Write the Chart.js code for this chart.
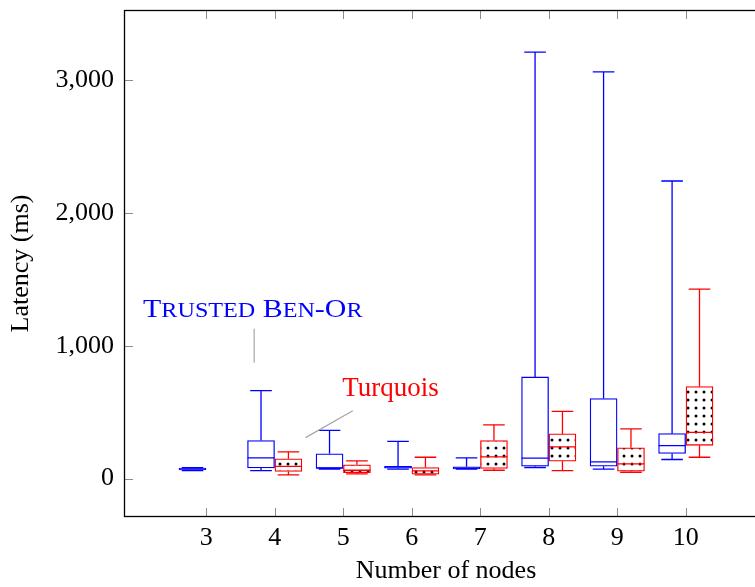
<!DOCTYPE html>
<html>
<head>
<meta charset="utf-8">
<title>Latency by number of nodes</title>
<script src="https://cdn.jsdelivr.net/npm/chart.js@4.4.1/dist/chart.umd.min.js"></script>
<style>
  html, body { margin: 0; padding: 0; background: #fff; overflow: hidden; }
  #wrap { width: 755px; height: 587px; overflow: hidden; position: relative; }
  #latencyChart { position: absolute; left: 0; top: 0; }
</style>
</head>
<body>
<div id="wrap"><canvas id="latencyChart"></canvas></div>
<script>
// number of nodes on the x axis
var nodes = [3, 4, 5, 6, 7, 8, 9, 10];
var xTicks = [3, 4, 5, 6, 7, 8, 9, 10];
var yTicks = [0, 1000, 2000, 3000];

// Trusted Ben-Or latency (ms): min, q1, median, q3, max
var benOrMin = [60, 60, 70, 70, 70, 83, 70, 143];
var benOrQ1 = [64, 80, 75, 77, 73, 93, 93, 188];
var benOrMed = [70, 155, 80, 85, 80, 153, 125, 248];
var benOrQ3 = [78, 286, 186, 92, 88, 765, 602, 338];
var benOrMax = [82, 662, 363, 280, 155, 3211, 3063, 2241];

// Turquois latency (ms), no run with 3 nodes
var turqMin = [null, 28, 35, 28, 62, 60, 47, 160];
var turqQ1 = [null, 53, 43, 32, 75, 130, 55, 250];
var turqMed = [null, 92, 62, 58, 163, 238, 110, 348];
var turqQ3 = [null, 148, 103, 83, 286, 336, 231, 692];
var turqMax = [null, 200, 133, 160, 404, 506, 374, 1426];

var FONT = '"Liberation Serif", "DejaVu Serif", serif';
var BLUE = '#0000ff';
var RED = '#ff0000';

function dotPattern() {
  var c = document.createElement('canvas');
  c.width = 8;
  c.height = 8;
  var g = c.getContext('2d');
  g.fillStyle = '#fff';
  g.fillRect(0, 0, 8, 8);
  g.fillStyle = '#000';
  [[0, 0], [8, 0], [0, 8], [8, 8]].forEach(function (p) {
    g.beginPath();
    g.arc(p[0], p[1], 1.5, 0, Math.PI * 2);
    g.fill();
  });
  return g.createPattern(c, 'repeat');
}

function boxData(q1, q3, shift) {
  var out = [];
  nodes.forEach(function (n, i) {
    if (q1[i] == null) return;
    out.push({ x: n + shift, y: [q1[i], q3[i]], i: i });
  });
  return out;
}

var series = [
  { min: benOrMin, med: benOrMed, q1: benOrQ1, q3: benOrQ3, max: benOrMax, color: BLUE },
  { min: turqMin, med: turqMed, q1: turqQ1, q3: turqQ3, max: turqMax, color: RED }
];

// whiskers, caps and medians drawn from the scales
var whiskerPlugin = {
  id: 'whiskers',
  afterDatasetsDraw: function (chart) {
    var ctx = chart.ctx;
    var y = chart.scales.y;
    ctx.save();
    ctx.lineWidth = 1.3;
    series.forEach(function (s, d) {
      var meta = chart.getDatasetMeta(d);
      meta.data.forEach(function (bar, k) {
        var i = chart.data.datasets[d].data[k].i;
        var cx = bar.x;
        var half = bar.width / 2;
        var cap = half * 0.8;
        ctx.strokeStyle = s.color;
        ctx.beginPath();
        ctx.moveTo(cx, y.getPixelForValue(s.q3[i]));
        ctx.lineTo(cx, y.getPixelForValue(s.max[i]));
        ctx.moveTo(cx - cap, y.getPixelForValue(s.max[i]));
        ctx.lineTo(cx + cap, y.getPixelForValue(s.max[i]));
        ctx.moveTo(cx, y.getPixelForValue(s.q1[i]));
        ctx.lineTo(cx, y.getPixelForValue(s.min[i]));
        ctx.moveTo(cx - cap, y.getPixelForValue(s.min[i]));
        ctx.lineTo(cx + cap, y.getPixelForValue(s.min[i]));
        ctx.moveTo(cx - half, y.getPixelForValue(s.med[i]));
        ctx.lineTo(cx + half, y.getPixelForValue(s.med[i]));
        ctx.stroke();
      });
    });
    ctx.restore();
  }
};

function drawSmallCaps(ctx, text, cx, baseline, big, small) {
  var parts = text.split('').map(function (ch) {
    var lower = ch !== ch.toUpperCase();
    return { t: ch.toUpperCase(), size: lower ? small : big };
  });
  var total = 0;
  parts.forEach(function (p) {
    ctx.font = p.size + 'px ' + FONT;
    p.w = ctx.measureText(p.t).width;
    total += p.w;
  });
  var stretch = 1.15;
  ctx.save();
  ctx.translate(cx - total * stretch / 2, baseline);
  ctx.scale(stretch, 1);
  var pos = 0;
  parts.forEach(function (p) {
    ctx.font = p.size + 'px ' + FONT;
    ctx.fillText(p.t, pos, 0);
    pos += p.w;
  });
  ctx.restore();
}

// frame, inner tick marks and the two labels with their pins
var framePlugin = {
  id: 'frame',
  afterDraw: function (chart) {
    var ctx = chart.ctx;
    var a = chart.chartArea;
    var x = chart.scales.x, y = chart.scales.y;
    ctx.save();
    ctx.strokeStyle = '#8c8c8c';
    ctx.lineWidth = 1;
    xTicks.forEach(function (v) {
      var px = Math.round(x.getPixelForValue(v)) + 0.5;
      ctx.beginPath();
      ctx.moveTo(px, a.bottom);
      ctx.lineTo(px, a.bottom - 9);
      ctx.moveTo(px, a.top);
      ctx.lineTo(px, a.top + 9);
      ctx.stroke();
    });
    yTicks.forEach(function (v) {
      var py = Math.round(y.getPixelForValue(v)) + 0.5;
      ctx.beginPath();
      ctx.moveTo(a.left, py);
      ctx.lineTo(a.left + 9, py);
      ctx.moveTo(a.right, py);
      ctx.lineTo(a.right - 9, py);
      ctx.stroke();
    });
    ctx.strokeStyle = '#000';
    ctx.lineWidth = 1.3;
    ctx.strokeRect(a.left + 0.5, a.top + 0.5, a.right - a.left - 1, a.bottom - a.top - 1);

    // pins
    ctx.strokeStyle = '#a6a6a6';
    ctx.lineWidth = 1.2;
    ctx.beginPath();
    ctx.moveTo(x.getPixelForValue(3.7), y.getPixelForValue(1128));
    ctx.lineTo(x.getPixelForValue(3.7), y.getPixelForValue(872));
    ctx.moveTo(x.getPixelForValue(4.45), y.getPixelForValue(308));
    ctx.lineTo(x.getPixelForValue(5.14), y.getPixelForValue(511));
    ctx.stroke();

    ctx.textAlign = 'left';
    ctx.textBaseline = 'alphabetic';
    ctx.fillStyle = BLUE;
    drawSmallCaps(ctx, 'Trusted Ben-Or', x.getPixelForValue(3.68), y.getPixelForValue(1218), 26, 21);
    ctx.fillStyle = RED;
    ctx.font = '27px ' + FONT;
    ctx.textAlign = 'center';
    ctx.fillText('Turquois', x.getPixelForValue(5.69), y.getPixelForValue(624));
    ctx.restore();
  }
};

var canvas = document.getElementById('latencyChart');
canvas.width = 769;
canvas.height = 587;
canvas.style.width = '769px';
canvas.style.height = '587px';

var chart = new Chart(canvas.getContext('2d'), {
  type: 'bar',
  data: {
    datasets: [{
      label: 'Trusted Ben-Or',
      data: boxData(benOrQ1, benOrQ3, -0.2),
      backgroundColor: '#ffffff',
      borderColor: BLUE,
      borderWidth: 1.3,
      borderSkipped: false,
      barThickness: 27,
      grouped: false
    }, {
      label: 'Turquois',
      data: boxData(turqQ1, turqQ3, 0.2),
      backgroundColor: dotPattern(),
      borderColor: RED,
      borderWidth: 1.3,
      borderSkipped: false,
      barThickness: 27,
      grouped: false
    }]
  },
  options: {
    responsive: false,
    animation: false,
    devicePixelRatio: 1,
    layout: { padding: { left: 0, right: 1, top: 10, bottom: 0 } },
    plugins: {
      legend: { display: false },
      tooltip: { enabled: false }
    },
    scales: {
      x: {
        type: 'linear',
        offset: false,
        min: 1.8,
        max: 11.2,
        grid: { display: false, drawTicks: false, offset: false },
        border: { display: false },
        afterBuildTicks: function (scale) {
          scale.ticks = xTicks.map(function (v) { return { value: v }; });
        },
        afterFit: function (scale) {
          scale.height = 70;
          scale.paddingLeft = 0;
          scale.paddingRight = 0;
        },
        ticks: {
          color: '#000',
          padding: 6,
          maxRotation: 0,
          font: { family: FONT, size: 26 }
        },
        title: {
          display: true,
          text: 'Number of nodes',
          color: '#000',
          padding: { top: 0, bottom: 0 },
          font: { family: FONT, size: 26 }
        }
      },
      y: {
        min: -290,
        max: 3529,
        grid: { display: false, drawTicks: false },
        border: { display: false },
        afterBuildTicks: function (scale) {
          scale.ticks = yTicks.map(function (v) { return { value: v }; });
        },
        afterFit: function (scale) {
          scale.width = 124;
          scale.paddingTop = 0;
          scale.paddingBottom = 0;
        },
        ticks: {
          color: '#000',
          padding: 10,
          font: { family: FONT, size: 26 },
          callback: function (v) { return v.toLocaleString('en-US'); }
        },
        title: {
          display: true,
          text: 'Latency (ms)',
          color: '#000',
          padding: { top: 6, bottom: 0 },
          font: { family: FONT, size: 26 }
        }
      }
    }
  },
  plugins: [whiskerPlugin, framePlugin]
});
</script>
</body>
</html>
